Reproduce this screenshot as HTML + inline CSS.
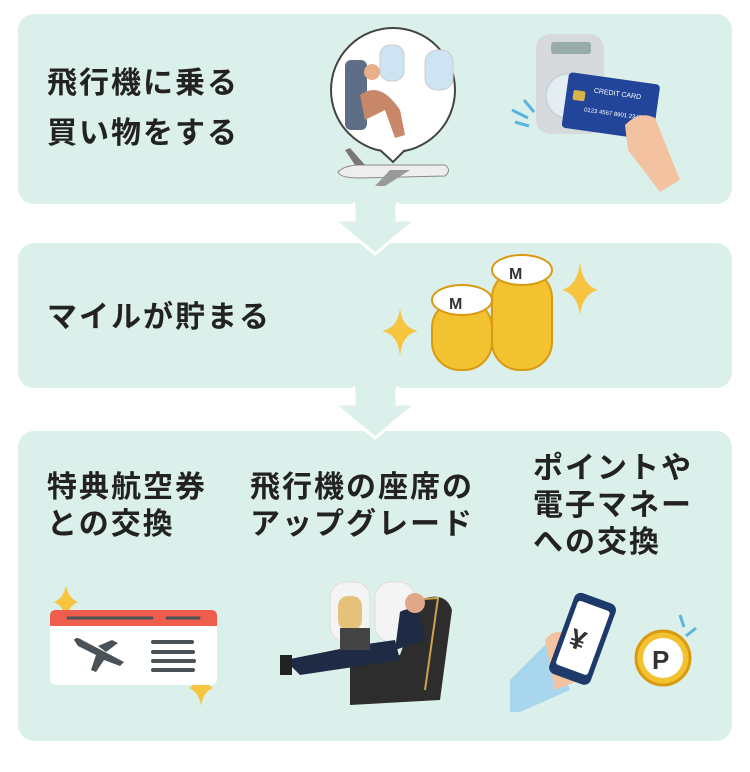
<!DOCTYPE html>
<html><head><meta charset="utf-8"><style>
body{margin:0;width:750px;height:772px;background:#fff;position:relative;overflow:hidden;font-family:"Liberation Sans","Noto Sans CJK JP",sans-serif;}
.p{position:absolute;left:18px;width:714px;background:#dcf0eb;border-radius:16px;}
.t{position:absolute;font-size:30px;letter-spacing:2px;font-weight:bold;color:#222;line-height:37px;white-space:nowrap;}
svg{position:absolute;left:0;top:0}
</style></head><body>
<div class="p" style="top:14px;height:190px"></div>
<div class="p" style="top:243px;height:145px"></div>
<div class="p" style="top:431px;height:310px"></div>
<svg width="750" height="772">
<path d="M354 204 H397 V220 H416 L375 254 L334 220 H354 Z" fill="#dcf0eb" stroke="#fff" stroke-width="3"/>
<rect x="355" y="200" width="41" height="6" fill="#dcf0eb"/>
<path d="M354 388 H397 V404 H416 L375 438 L334 404 H354 Z" fill="#dcf0eb" stroke="#fff" stroke-width="3"/>
<rect x="355" y="384" width="41" height="6" fill="#dcf0eb"/>
<circle cx="393" cy="90" r="62" fill="#fff" stroke="#444" stroke-width="2"/>
<path d="M380 150 L393 162 L405 150" fill="#fff" stroke="#444" stroke-width="2"/>
<rect x="425" y="50" width="28" height="40" rx="12" fill="#cfe4f2" stroke="#ccc"/>
<rect x="380" y="45" width="24" height="36" rx="10" fill="#cfe4f2" stroke="#ccc"/>
<rect x="345" y="60" width="22" height="70" rx="6" fill="#5d6e86"/>
<path d="M360 95 Q380 80 400 110 L405 135 L395 138 L385 110 L365 120Z" fill="#c9876a"/>
<circle cx="372" cy="72" r="8" fill="#e8b08a"/>
<path d="M338 172 Q345 165 360 165 L445 165 Q452 170 445 176 L360 178 Q340 178 338 172Z" fill="#eee" stroke="#888"/>
<path d="M345 150 L355 165 L365 165 L350 148Z" fill="#777"/>
<path d="M390 170 L375 186 L385 186 L410 170Z" fill="#999"/>
<rect x="536" y="34" width="68" height="100" rx="14" fill="#d6dadc"/>
<rect x="551" y="42" width="40" height="12" rx="3" fill="#9aa"/>
<circle cx="568" cy="96" r="22" fill="#e4eef2" stroke="#bcd" />
<path d="M512 110 l16 8 M515 122 l14 4 M524 100 l10 12" stroke="#5ab4e0" stroke-width="3"/>
<g transform="rotate(8 610 105)">
<rect x="565" y="78" width="92" height="56" rx="4" fill="#22459a"/>
<rect x="572" y="95" width="12" height="10" rx="2" fill="#d9b44a"/>
<text x="592" y="95" font-size="7" fill="#fff">CREDIT CARD</text>
<text x="585" y="115" font-size="6" fill="#fff">0123 4567 8901 2345</text>
</g>
<path d="M625 125 Q640 110 655 118 L680 180 L660 192 L628 150Z" fill="#f3c2a0"/>
<g fill="#f2c230" stroke="#d99a10" stroke-width="2">
<rect x="492" y="270" width="60" height="100" rx="28" />
<ellipse cx="522" cy="270" rx="30" ry="15" fill="#fff"/>
<rect x="432" y="300" width="60" height="70" rx="28"/>
<ellipse cx="462" cy="300" rx="30" ry="15" fill="#fff"/>
</g>
<text x="509" y="279" font-size="16" font-weight="bold" fill="#333">M</text>
<text x="449" y="309" font-size="16" font-weight="bold" fill="#333">M</text>
<g fill="#f6c43e">
<path d="M400 308 Q402 328 418 331 Q402 334 400 356 Q398 334 382 331 Q398 328 400 308Z"/>
<path d="M580 262 Q582 285 598 290 Q582 294 580 316 Q578 294 562 290 Q578 285 580 262Z"/>
<path d="M66 585 Q68 598 78 602 Q68 606 66 620 Q64 606 54 602 Q64 598 66 585Z"/>
<path d="M201 668 Q203 683 213 688 Q203 692 201 706 Q199 692 189 688 Q199 683 201 668Z"/>
</g>
<rect x="50" y="610" width="167" height="75" rx="6" fill="#fff"/>
<path d="M56 610 H211 Q217 610 217 616 V626 H50 V616 Q50 610 56 610Z" fill="#ef5d4d"/>
<path d="M68 618 H152 M167 618 H199" stroke="#4a5257" stroke-width="3" stroke-linecap="round"/>
<path d="M153 642 H192 M153 652 H193 M153 661 H194 M153 670 H193" stroke="#4a5257" stroke-width="4" stroke-linecap="round"/>
<path d="M74 640 Q76 636 82 640 L124 662 L120 666 L104 660 L96 672 L91 670 L96 655 L78 646Z" fill="#4a5257"/>
<path d="M98 646 L112 640 L118 643 L106 652Z" fill="#4a5257"/>
<rect x="330" y="582" width="40" height="60" rx="16" fill="#f4f4f4" stroke="#ddd"/>
<rect x="338" y="596" width="24" height="34" rx="10" fill="#e4c27a"/>
<rect x="375" y="582" width="40" height="60" rx="16" fill="#f4f4f4" stroke="#ddd"/>
<path d="M420 600 Q445 590 452 610 L440 700 L350 705 L350 660 L400 655Z" fill="#2d2d2d"/>
<path d="M410 600 L438 598 L425 690" stroke="#caa250" stroke-width="2" fill="none"/>
<path d="M285 660 L360 645 L395 640 L400 660 L300 675Z" fill="#1f2a44"/>
<path d="M400 612 Q420 600 425 640 L395 650Z" fill="#1f2a44"/>
<circle cx="415" cy="603" r="10" fill="#e0a888"/>
<rect x="340" y="628" width="30" height="22" fill="#444"/>
<rect x="280" y="655" width="12" height="20" fill="#222"/>
<path d="M510 680 L550 640 L570 690 L520 712 L510 712Z" fill="#a8d6ec"/>
<path d="M545 640 Q560 620 585 650 L580 680 L555 690Z" fill="#f3c2a0"/>
<g transform="rotate(20 580 640)">
<rect x="560" y="595" width="44" height="86" rx="7" fill="#1d3a6b"/>
<rect x="565" y="603" width="34" height="68" rx="3" fill="#fff"/>
<text x="570" y="650" font-size="28" font-weight="bold" fill="#333">¥</text>
</g>
<circle cx="663" cy="658" r="27" fill="#f2c230" stroke="#d99a10" stroke-width="3"/>
<circle cx="663" cy="658" r="20" fill="#fff"/>
<text x="652" y="669" font-size="26" font-weight="bold" fill="#333">P</text>
<path d="M680 615 l4 12 M696 628 l-10 8" stroke="#5ab4e0" stroke-width="3"/>
</svg>
<div class="t" style="left:47px;top:65px">飛行機に乗る</div>
<div class="t" style="left:47px;top:115px">買い物をする</div>
<div class="t" style="left:47px;top:299px">マイルが貯まる</div>
<div class="t" style="left:47px;top:469px">特典航空券<br>との交換</div>
<div class="t" style="left:250px;top:469px">飛行機の座席の<br>アップグレード</div>
<div class="t" style="left:533px;top:450px">ポイントや<br>電子マネー<br>への交換</div>
</body></html>
